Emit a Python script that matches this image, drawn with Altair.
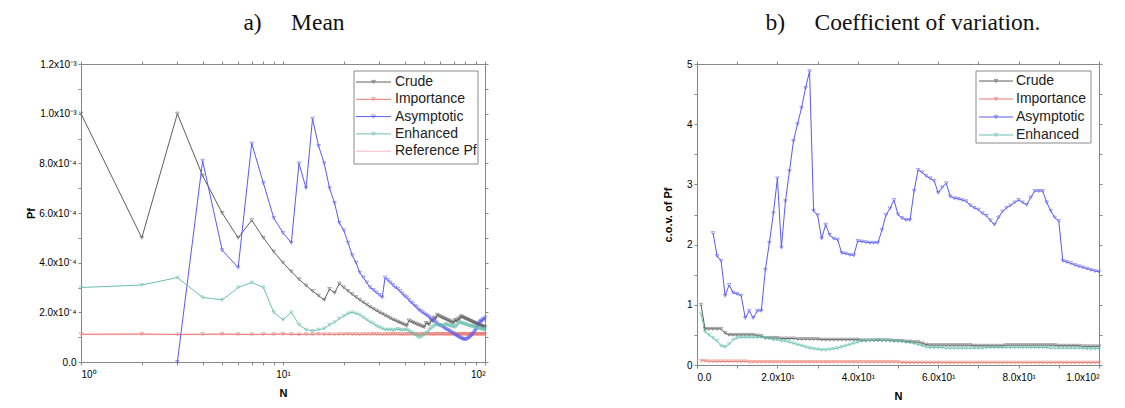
import altair as alt
import pandas as pd

# ---------------- data: panel a) mean of P_f (values in units of 1e-4) ----------------
series_names = ["Crude", "Importance", "Asymptotic", "Enhanced"]
ref_name = "Reference Pf"

N_mean = list(range(1, 101))
mean_crude = [10.0, 5.0, 10.0, 7.5, 6.0, 5.0, 5.71, 5.0, 4.44, 4.0,
              3.64, 3.33, 3.08, 2.86, 2.67, 2.5, 2.94, 2.78, 3.16, 3.0,
              2.86, 2.73, 2.61, 2.5, 2.4, 2.31, 2.22, 2.14, 2.07, 2.0,
              1.94, 1.88, 1.82, 1.76, 1.71, 1.67, 1.62, 1.58, 1.54, 1.5,
              1.46, 1.67, 1.63, 1.59, 1.56, 1.52, 1.49, 1.46, 1.43, 1.4,
              1.57, 1.54, 1.51, 1.67, 1.64, 1.79, 1.75, 1.9, 1.86, 1.83,
              1.8, 1.77, 1.75, 1.72, 1.69, 1.67, 1.64, 1.62, 1.59, 1.57,
              1.69, 1.67, 1.64, 1.76, 1.73, 1.84, 1.82, 1.79, 1.77, 1.75,
              1.73, 1.71, 1.69, 1.67, 1.65, 1.63, 1.61, 1.59, 1.57, 1.56,
              1.54, 1.52, 1.51, 1.49, 1.47, 1.46, 1.44, 1.43, 1.41, 1.4]
mean_importance = [1.12, 1.13, 1.11, 1.12, 1.13, 1.12, 1.11, 1.12, 1.12, 1.13,
                   1.12, 1.11, 1.12, 1.12, 1.13, 1.12, 1.12, 1.11, 1.12, 1.12,
                   1.13, 1.12, 1.12, 1.11, 1.12, 1.12, 1.12, 1.13, 1.12, 1.12,
                   1.11, 1.12, 1.12, 1.12, 1.13, 1.12, 1.12, 1.12, 1.11, 1.12,
                   1.12, 1.12, 1.13, 1.12, 1.12, 1.12, 1.11, 1.12, 1.12, 1.12,
                   1.12, 1.13, 1.12, 1.12, 1.12, 1.11, 1.12, 1.12, 1.12, 1.12,
                   1.13, 1.12, 1.12, 1.12, 1.11, 1.12, 1.12, 1.12, 1.12, 1.13,
                   1.12, 1.12, 1.12, 1.11, 1.12, 1.12, 1.12, 1.12, 1.13, 1.12,
                   1.12, 1.12, 1.11, 1.12, 1.12, 1.12, 1.12, 1.13, 1.12, 1.12,
                   1.12, 1.11, 1.12, 1.12, 1.12, 1.12, 1.13, 1.12, 1.12, 1.12]
mean_asymptotic = [None, None, 0.0, 8.1, 4.5, 3.8, 8.8, 7.2, 5.8, 5.2,
                   4.8, 8.0, 7.0, 9.8, 8.7, 8.0, 7.0, 6.4, 5.6, 5.3,
                   4.8, 4.3, 4.0, 3.6, 3.4, 3.2, 3.0, 2.9, 2.8, 2.7,
                   2.6, 3.4, 3.3, 3.2, 3.1, 3.0, 2.95, 2.85, 2.75, 2.65,
                   2.6, 2.5, 2.4, 2.35, 2.25, 2.2, 2.1, 2.05, 2.0, 1.95,
                   1.9, 1.85, 1.8, 1.75, 1.7, 1.65, 1.6, 1.55, 1.5, 1.48,
                   1.45, 1.4, 1.37, 1.33, 1.3, 1.27, 1.24, 1.2, 1.17, 1.14,
                   1.1, 1.07, 1.04, 1.01, 0.99, 0.96, 0.94, 0.92, 0.91, 0.9,
                   0.92, 0.94, 0.97, 1.0, 1.04, 1.08, 1.13, 1.18, 1.24, 1.3,
                   1.37, 1.44, 1.52, 1.6, 1.66, 1.62, 1.68, 1.74, 1.7, 1.78]
mean_enhanced = [3.0, 3.1, 3.4, 2.6, 2.5, 3.0, 3.2, 3.0, 2.0, 1.7,
                 2.0, 1.5, 1.3, 1.25, 1.3, 1.35, 1.5, 1.6, 1.75, 1.85,
                 1.95, 2.0, 1.95, 1.9, 1.8, 1.7, 1.6, 1.55, 1.45, 1.4,
                 1.35, 1.3, 1.3, 1.3, 1.28, 1.3, 1.32, 1.3, 1.28, 1.3,
                 1.3, 1.25, 1.2, 1.15, 1.1, 1.05, 1.0, 1.0, 1.05, 1.1,
                 1.15, 1.2, 1.3, 1.35, 1.4, 1.45, 1.5, 1.5, 1.48, 1.46,
                 1.45, 1.44, 1.5, 1.52, 1.5, 1.48, 1.46, 1.45, 1.43, 1.42,
                 1.4, 1.45, 1.5, 1.55, 1.6, 1.58, 1.56, 1.55, 1.53, 1.52,
                 1.5, 1.48, 1.47, 1.46, 1.45, 1.44, 1.43, 1.42, 1.4, 1.39,
                 1.38, 1.37, 1.36, 1.35, 1.34, 1.33, 1.32, 1.31, 1.3, 1.3]
reference_pf = 1.1
reference_N = [1, 100]

# ---------------- data: panel b) coefficient of variation ----------------
N_cov = list(range(1, 101))
cov_crude = [1.0, 0.6, 0.6, 0.6, 0.6, 0.6, 0.53, 0.5, 0.5, 0.5,
             0.5, 0.5, 0.5, 0.5, 0.49, 0.48, 0.45, 0.45, 0.45, 0.45,
             0.44, 0.44, 0.44, 0.44, 0.43, 0.43, 0.43, 0.43, 0.43, 0.43,
             0.42, 0.42, 0.42, 0.42, 0.42, 0.42, 0.42, 0.42, 0.42, 0.42,
             0.41, 0.41, 0.41, 0.41, 0.41, 0.41, 0.41, 0.41, 0.40, 0.40,
             0.40, 0.39, 0.39, 0.38, 0.38, 0.36, 0.34, 0.33, 0.33, 0.33,
             0.33, 0.33, 0.33, 0.33, 0.33, 0.33, 0.33, 0.33, 0.32, 0.32,
             0.32, 0.32, 0.32, 0.32, 0.32, 0.32, 0.33, 0.33, 0.33, 0.33,
             0.33, 0.33, 0.33, 0.33, 0.33, 0.33, 0.33, 0.33, 0.33, 0.32,
             0.32, 0.32, 0.32, 0.32, 0.32, 0.31, 0.31, 0.31, 0.31, 0.31]
cov_importance = [0.07, 0.07, 0.06, 0.06, 0.06, 0.06, 0.06, 0.06, 0.06, 0.06,
                  0.06, 0.06, 0.05, 0.05, 0.05, 0.05, 0.05, 0.05, 0.05, 0.05,
                  0.05, 0.05, 0.05, 0.05, 0.05, 0.05, 0.05, 0.05, 0.05, 0.05,
                  0.05, 0.05, 0.05, 0.05, 0.05, 0.05, 0.05, 0.05, 0.05, 0.05,
                  0.05, 0.05, 0.05, 0.05, 0.05, 0.05, 0.05, 0.05, 0.05, 0.05,
                  0.04, 0.04, 0.04, 0.04, 0.04, 0.04, 0.04, 0.04, 0.04, 0.04,
                  0.04, 0.04, 0.04, 0.04, 0.04, 0.04, 0.04, 0.04, 0.04, 0.04,
                  0.04, 0.04, 0.04, 0.04, 0.04, 0.04, 0.04, 0.04, 0.04, 0.04,
                  0.04, 0.04, 0.04, 0.04, 0.04, 0.04, 0.04, 0.04, 0.04, 0.04,
                  0.04, 0.04, 0.04, 0.04, 0.04, 0.04, 0.04, 0.04, 0.04, 0.04]
cov_asymptotic = [None, None, None, 2.19, 1.81, 1.73, 1.15, 1.33, 1.2, 1.18,
                  1.15, 0.78, 0.9, 0.78, 0.9, 0.9, 1.58, 2.03, 2.52, 3.1,
                  1.95, 2.72, 3.22, 3.72, 4.0, 4.27, 4.6, 4.88, 2.56, 2.49,
                  2.1, 2.33, 2.16, 2.1, 2.08, 1.86, 1.85, 1.83, 1.82, 2.06,
                  2.05, 2.04, 2.03, 2.03, 2.03, 2.24, 2.49, 2.6, 2.74, 2.5,
                  2.44, 2.41, 2.41, 2.89, 3.24, 3.2, 3.14, 3.1, 3.06, 2.86,
                  2.95, 3.02, 2.8, 2.77, 2.76, 2.74, 2.72, 2.65, 2.61, 2.58,
                  2.52, 2.48, 2.4, 2.33, 2.45, 2.55, 2.61, 2.65, 2.7, 2.74,
                  2.7, 2.66, 2.78, 2.89, 2.89, 2.89, 2.7, 2.56, 2.45, 2.39,
                  1.73, 1.71, 1.69, 1.66, 1.64, 1.62, 1.6, 1.58, 1.56, 1.55]
cov_enhanced = [0.85, 0.55, 0.5, 0.45, 0.4, 0.32, 0.3, 0.35, 0.42, 0.45,
                0.46, 0.46, 0.46, 0.46, 0.46, 0.46, 0.45, 0.44, 0.42, 0.42,
                0.4, 0.4, 0.38, 0.36, 0.34, 0.32, 0.3, 0.28, 0.27, 0.26,
                0.25, 0.25, 0.26, 0.27, 0.28, 0.3, 0.32, 0.34, 0.36, 0.38,
                0.4, 0.4, 0.41, 0.41, 0.42, 0.41, 0.41, 0.4, 0.4, 0.4,
                0.39, 0.38, 0.37, 0.36, 0.34, 0.32, 0.3, 0.29, 0.29, 0.29,
                0.29, 0.28, 0.28, 0.28, 0.28, 0.28, 0.28, 0.28, 0.28, 0.28,
                0.28, 0.29, 0.29, 0.29, 0.29, 0.29, 0.29, 0.29, 0.29, 0.29,
                0.29, 0.29, 0.29, 0.29, 0.29, 0.29, 0.29, 0.28, 0.28, 0.28,
                0.28, 0.28, 0.28, 0.28, 0.28, 0.28, 0.27, 0.27, 0.27, 0.27]

colors = ["#5f5f5f", "#e8786e", "#5a5af0", "#6cc2b0"]
ref_color = "#f6b9c6"

# ---------------- build tables ----------------
def long_table(ns, cols):
    rows = []
    for name, vals in zip(series_names, cols):
        for n, v in zip(ns, vals):
            if v is not None:
                rows.append({"N": n, "value": v, "series": name})
    return pd.DataFrame(rows)

mean_df = long_table(N_mean, [mean_crude, mean_importance, mean_asymptotic, mean_enhanced])
ref_df = pd.DataFrame({"N": reference_N, "value": [reference_pf] * len(reference_N),
                       "series": [ref_name] * len(reference_N)})
mean_lines_df = pd.concat([ref_df, mean_df], ignore_index=True)
cov_df = long_table(N_cov, [cov_crude, cov_importance, cov_asymptotic, cov_enhanced])


# ---------------- in-plot legend (box, line sample, marker, label) ----------------
def make_legend(names, marker_names, color_scale, box_x, box_y, box_w, box_h,
                line_x0, line_x1, text_x, row0, pitch):
    leg_df = pd.DataFrame({"series": names, "row": list(range(len(names)))})
    py = f"{box_y + row0} + datum.row * {pitch}"
    box = alt.Chart(pd.DataFrame({"k": [0]})).mark_rect(
        fill="white", stroke="#8a8a8a", strokeWidth=1).encode(
        x=alt.value(box_x), x2=alt.value(box_x + box_w),
        y=alt.value(box_y), y2=alt.value(box_y + box_h))
    lines = alt.Chart(leg_df).transform_calculate(py=py).mark_rule(strokeWidth=1).encode(
        x=alt.value(line_x0), x2=alt.value(line_x1),
        y=alt.Y("py:Q", scale=None, axis=None),
        color=alt.Color("series:N", scale=color_scale, legend=None))
    marks = alt.Chart(leg_df).transform_filter(
        alt.FieldOneOfPredicate(field="series", oneOf=marker_names)
    ).transform_calculate(py=py).mark_point(
        shape="triangle-down", size=14, filled=False, strokeWidth=0.9).encode(
        x=alt.value((line_x0 + line_x1) / 2),
        y=alt.Y("py:Q", scale=None, axis=None),
        color=alt.Color("series:N", scale=color_scale, legend=None))
    texts = alt.Chart(leg_df).transform_calculate(py=py).mark_text(
        align="left", baseline="middle", font="Liberation Sans", fontSize=14, color="#222").encode(
        x=alt.value(text_x),
        y=alt.Y("py:Q", scale=None, axis=None),
        text="series:N")
    return [box, lines, marks, texts]


XAX = dict(tickSize=3, grid=False, labelPadding=4, titlePadding=8)
YAX = dict(tickSize=3, grid=False, labelPadding=2)
MIR = dict(tickSize=3, grid=False, labels=False, title=None)

# ---------------- panel a ----------------
x_log_vals = [1, 2, 3, 4, 5, 6, 7, 8, 9, 10, 20, 30, 40, 50, 60, 70, 80, 90, 100]
y_mean_vals = list(range(0, 13))
x_log_scale = alt.Scale(type="log", domain=[1, 100], nice=False)
y_mean_scale = alt.Scale(domain=[0, 12], nice=False)
mean_color_scale = alt.Scale(domain=series_names + [ref_name], range=colors + [ref_color])

mean_lines = alt.Chart(mean_lines_df).mark_line(strokeWidth=1).encode(
    x=alt.X("N:Q", scale=x_log_scale,
            axis=alt.Axis(orient="bottom", values=x_log_vals, title="N", **XAX,
                          labelExpr="datum.value == 1 ? '10⁰' : datum.value == 10 ? '10¹' : datum.value == 100 ? '10²' : ''")),
    y=alt.Y("value:Q", scale=y_mean_scale,
            axis=alt.Axis(orient="left", values=y_mean_vals, title="Pf", titlePadding=2, **YAX,
                          labelExpr="datum.value == 0 ? '0.0' : datum.value % 2 != 0 ? '' : datum.value >= 10 ? format(datum.value / 10, '.1f') + 'x10⁻³' : format(datum.value, '.1f') + 'x10⁻⁴'")),
    color=alt.Color("series:N", scale=mean_color_scale, legend=None),
    order=alt.Order("N:Q"),
)
mean_points = alt.Chart(mean_df).mark_point(shape="triangle-down", size=12, filled=False, strokeWidth=0.8).encode(
    x=alt.X("N:Q", scale=x_log_scale, axis=None),
    y=alt.Y("value:Q", scale=y_mean_scale, axis=None),
    color=alt.Color("series:N", scale=mean_color_scale, legend=None),
)
mean_mirror = alt.Chart(mean_df).mark_point(opacity=0).encode(
    x=alt.X("N:Q", scale=x_log_scale, axis=alt.Axis(orient="top", values=x_log_vals, **MIR)),
    y=alt.Y("value:Q", scale=y_mean_scale, axis=alt.Axis(orient="right", values=y_mean_vals, **MIR)),
)
mean_legend = make_legend(series_names + [ref_name], series_names, mean_color_scale,
                          box_x=273, box_y=7, box_w=124, box_h=93,
                          line_x0=275, line_x1=310, text_x=314, row0=11, pitch=17.3)
panel_a = alt.layer(mean_lines, mean_points, mean_mirror, *mean_legend).properties(
    width=404, height=298,
    title=alt.Title("a)\u00a0\u00a0\u00a0\u00a0\u00a0Mean", font="Liberation Serif", fontSize=23.5,
                    fontWeight="normal", color="#111", anchor="middle", offset=25, dx=11),
)

# ---------------- panel b ----------------
x_lin_vals = list(range(0, 101, 10))
y_cov_vals = [0, 0.5, 1, 1.5, 2, 2.5, 3, 3.5, 4, 4.5, 5]
x_lin_scale = alt.Scale(domain=[0, 100], nice=False)
y_cov_scale = alt.Scale(domain=[0, 5], nice=False)
cov_color_scale = alt.Scale(domain=series_names, range=colors)

cov_lines = alt.Chart(cov_df).mark_line(strokeWidth=1).encode(
    x=alt.X("N:Q", scale=x_lin_scale,
            axis=alt.Axis(orient="bottom", values=x_lin_vals, title="N", **XAX,
                          labelExpr="datum.value == 0 ? '0.0' : datum.value % 20 != 0 ? '' : datum.value == 100 ? '1.0x10²' : format(datum.value / 10, '.1f') + 'x10¹'")),
    y=alt.Y("value:Q", scale=y_cov_scale,
            axis=alt.Axis(orient="left", values=y_cov_vals, title="c.o.v. of Pf", titlePadding=13, **YAX,
                          labelExpr="datum.value % 1 != 0 ? '' : format(datum.value, 'd')")),
    color=alt.Color("series:N", scale=cov_color_scale, legend=None),
    order=alt.Order("N:Q"),
)
cov_points = alt.Chart(cov_df).mark_point(shape="triangle-down", size=12, filled=False, strokeWidth=0.8).encode(
    x=alt.X("N:Q", scale=x_lin_scale, axis=None),
    y=alt.Y("value:Q", scale=y_cov_scale, axis=None),
    color=alt.Color("series:N", scale=cov_color_scale, legend=None),
)
cov_mirror = alt.Chart(cov_df).mark_point(opacity=0).encode(
    x=alt.X("N:Q", scale=x_lin_scale, axis=alt.Axis(orient="top", values=x_lin_vals, **MIR)),
    y=alt.Y("value:Q", scale=y_cov_scale, axis=alt.Axis(orient="right", values=y_cov_vals, **MIR)),
)
cov_legend = make_legend(series_names, series_names, cov_color_scale,
                         box_x=279, box_y=7, box_w=115, box_h=72,
                         line_x0=282, line_x1=316, text_x=319, row0=10, pitch=18)
panel_b = alt.layer(cov_lines, cov_points, cov_mirror, *cov_legend).properties(
    width=402, height=301,
    title=alt.Title("b)\u00a0\u00a0\u00a0\u00a0\u00a0Coefficient of variation.", font="Liberation Serif",
                    fontSize=23.5, fontWeight="normal", color="#111", anchor="middle", offset=25, dx=5),
)

chart = alt.hconcat(panel_a, panel_b, spacing=172).properties(
    padding={"left": 25, "top": 10, "right": 5, "bottom": 5},
).configure_axis(
    grid=False,
    labelFont="DejaVu Sans", labelFontSize=9, labelColor="#555",
    titleFont="DejaVu Sans", titleFontSize=10, titleFontWeight="normal", titleColor="#333",
    domainColor="#666", domainWidth=1.5, tickColor="#666", tickWidth=1,
).configure_view(stroke=None).configure(background="white")

chart.save("out.html", embed_options={"renderer": "svg", "actions": False})
